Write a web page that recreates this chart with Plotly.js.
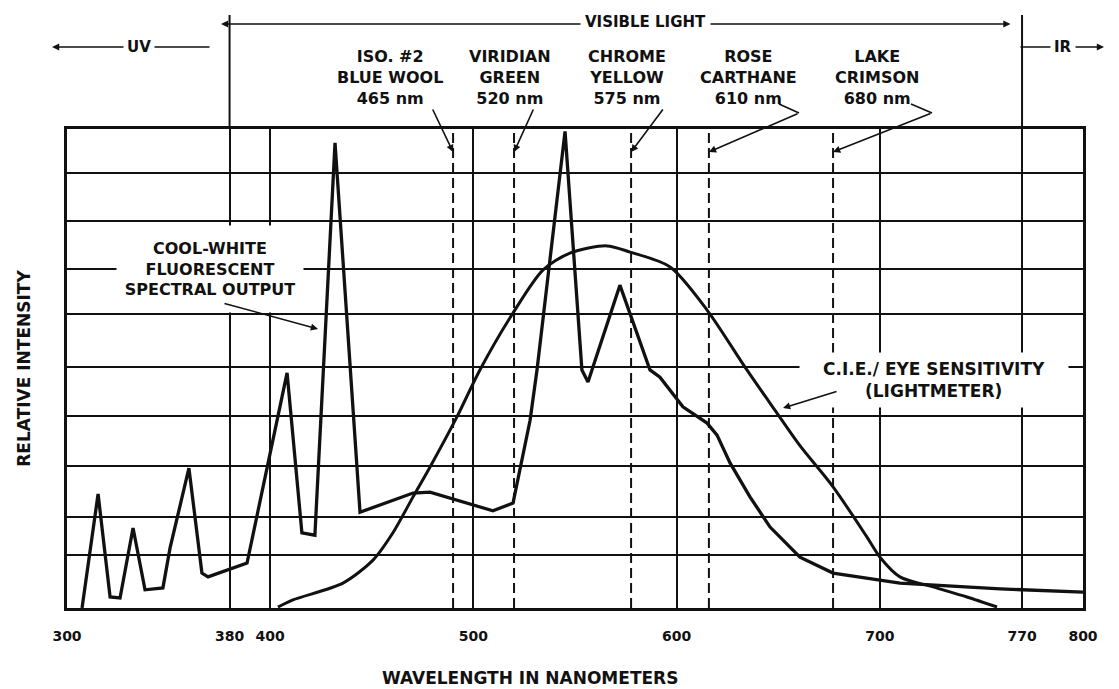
<!DOCTYPE html>
<html><head><meta charset="utf-8">
<script src="https://cdn.plot.ly/plotly-3.0.1.min.js"></script>
<style>html,body{margin:0;padding:0;background:#fff}</style>
</head><body><div id="chart" style="width:1119px;height:689px"></div>
<script>
// ---- Data ----
const fluorWavelength = [307.4,315.3,321.2,326.1,332.5,338.4,347.2,350.7,360.0,366.4,369.4,388.6,408.3,415.6,422.0,431.9,444.2,470.3,478.6,509.6,519.5,527.9,531.3,545.1,553.4,556.4,572.1,586.9,591.8,603.1,615.0,619.9,626.3,636.1,646.0,660.7,677.0,709.9,759.2,800];
const fluorIntensity  = [0,23.8,2.3,2.1,16.7,3.8,4.2,12.5,29.2,7.3,6.5,9.4,49.1,15.7,15.2,97.1,20.0,24.0,24.2,20.3,21.9,39.2,49.7,99.5,49.7,47.2,67.4,49.7,48.2,42.0,38.6,36.1,30.3,23.2,16.9,10.6,7.3,5.2,4.0,3.3];
const cieWavelength = [403.8,411.2,435.8,450.6,460.4,470.3,478.6,491.9,503.2,519.5,534.3,547.5,565.7,577.1,596.8,615.0,634.6,649.4,660.7,677.0,693.7,700.1,709.9,726.2,742.9,757.7];
const cieIntensity  = [0.2,1.7,5.2,10.0,15.7,23.2,29.4,39.9,49.7,61.6,70.6,74.1,75.6,74.3,71.2,62.2,49.7,40.7,33.9,25.3,14.8,10.6,6.5,4.4,2.3,0.2];
const xTickVals = [300,380,400,500,600,700,770,800];
const xTickText = ['300','380','400','500','600','700','770','800'];
// horizontal grid lines as drawn in the picture (unlabelled, relative 0-100)
const yGridVals = [0,11.1,19.0,29.6,40.1,50.3,61.4,70.8,80.8,90.8,100];
const pigmentLineX = [490,520,577.6,615.9,677];
const pigmentLabels = ['ISO. #2<br>BLUE WOOL<br>465 nm','VIRIDIAN<br>GREEN<br>520 nm','CHROME<br>YELLOW<br>575 nm','ROSE<br>CARTHANE<br>610 nm','LAKE<br>CRIMSON<br>680 nm'];
const visibleBounds = [380, 770];

// ---- Layout geometry / style ----
const W=1119, H=689, ML=67, MR=36, MT=129, MB=81;
const PW=W-ML-MR, PH=H-MT-MB;
const px = p => (p-ML)/PW;          // pixel -> paper x
const py = p => (H-MB-p)/PH;        // pixel -> paper y
const INK='#111';
const FAM='DejaVu Sans, Liberation Sans, sans-serif';
const f = (s)=>({family:FAM,size:s,color:INK,weight:700});
const labelCenters = [390,510,627,748,877];
const leaderTail = [[432,108],[534,108],[664,108],[799,113],[932,113]];
const C = {xanchor:'center',yanchor:'middle',showarrow:false};

const traces = [
  {x:fluorWavelength,y:fluorIntensity,type:'scatter',mode:'lines',line:{color:INK,width:3.3,shape:'linear'},hoverinfo:'skip',cliponaxis:false},
  {x:cieWavelength,y:cieIntensity,type:'scatter',mode:'lines',line:{color:INK,width:3,shape:'spline',smoothing:0.8},hoverinfo:'skip'}
];

const shapes = [];
pigmentLineX.forEach(v=>shapes.push({type:'line',xref:'x',yref:'y',x0:v,x1:v,y0:0,y1:100,layer:'below',line:{color:INK,width:2,dash:'10px,5px'}}));
visibleBounds.forEach(v=>shapes.push({type:'line',xref:'x',yref:'paper',x0:v,x1:v,y0:1,y1:py(15),line:{color:INK,width:2}}));
// small kinks of the 610 / 680 nm leaders
[[779,104,799,113],[911,104,932,113]].forEach(s=>shapes.push({type:'line',xref:'paper',yref:'paper',x0:px(s[0]),y0:py(s[1]),x1:px(s[2]),y1:py(s[3]),line:{color:INK,width:1.6}}));

const ann = [];
const arrow = (hx,hy,tx,ty,extra)=>Object.assign({xref:'paper',yref:'paper',x:px(hx),y:py(hy),ax:tx-hx,ay:ty-hy,text:'',showarrow:true,arrowhead:2,arrowsize:0.9,arrowwidth:1.6,arrowcolor:INK},extra||{});
// visible light bracket
ann.push(arrow(221,24,1012,24,{arrowside:'end+start',startarrowhead:2,startarrowsize:0.9}));
ann.push(Object.assign({xref:'paper',yref:'paper',x:px(645),y:py(22),text:'VISIBLE LIGHT',bgcolor:'#fff',borderpad:4,font:f(15)},C));
// UV
ann.push(arrow(52,47,211,47));
ann.push(Object.assign({xref:'paper',yref:'paper',x:px(139),y:py(47),text:'UV',bgcolor:'#fff',borderpad:3,font:f(15)},C));
// IR
ann.push(arrow(1104,47,1019,47));
ann.push(Object.assign({xref:'paper',yref:'paper',x:px(1063),y:py(47),text:'IR',bgcolor:'#fff',borderpad:3,font:f(15)},C));
// pigment labels + leaders
pigmentLabels.forEach((t,i)=>{
  ann.push(Object.assign({xref:'paper',yref:'paper',x:px(labelCenters[i]),y:py(78),text:t,font:f(16),align:'center'},C));
  const hx=ML+(pigmentLineX[i]-300)/500*PW, hy=152;
  ann.push({xref:'x',yref:'y',x:pigmentLineX[i],y:(H-MB-hy)/PH*100,ax:leaderTail[i][0]-hx,ay:leaderTail[i][1]-hy,text:'',showarrow:true,arrowhead:2,arrowsize:0.9,arrowwidth:1.6,arrowcolor:INK});
});
// cool-white label
ann.push(Object.assign({xref:'paper',yref:'paper',x:px(210),y:py(269),text:'COOL-WHITE<br>FLUORESCENT<br>SPECTRAL OUTPUT',bgcolor:'#fff',width:186,height:86,borderpad:0,font:f(16),align:'center'},C));
ann.push(arrow(318,329,223,303));
// CIE label
ann.push(Object.assign({xref:'paper',yref:'paper',x:px(934),y:py(380),text:'C.I.E./ EYE SENSITIVITY<br>(LIGHTMETER)',bgcolor:'#fff',width:268,height:54,borderpad:0,font:f(17),align:'center'},C));
ann.push(arrow(783,408,838,391));
// x title
ann.push(Object.assign({xref:'paper',yref:'paper',x:px(530),y:py(678),text:'WAVELENGTH IN NANOMETERS',font:f(17)},C));

const layout = {
  width:W,height:H,margin:{l:ML,r:MR,t:MT,b:MB},
  paper_bgcolor:'#fff',plot_bgcolor:'#fff',showlegend:false,
  xaxis:{range:[300,800],tickvals:xTickVals,ticktext:xTickText,showgrid:true,gridcolor:INK,gridwidth:2,
         showline:true,mirror:true,linecolor:INK,linewidth:3,ticks:'',zeroline:false,tickfont:f(14),ticklabelstandoff:13},
  yaxis:{range:[0,100],tickvals:yGridVals,showticklabels:false,showgrid:true,gridcolor:INK,gridwidth:2,
         showline:true,mirror:true,linecolor:INK,linewidth:3,ticks:'',zeroline:false,
         title:{text:'RELATIVE INTENSITY',font:f(17),standoff:30}},
  shapes:shapes,annotations:ann
};
Plotly.newPlot('chart',traces,layout,{staticPlot:true,displayModeBar:false});
</script></body></html>
